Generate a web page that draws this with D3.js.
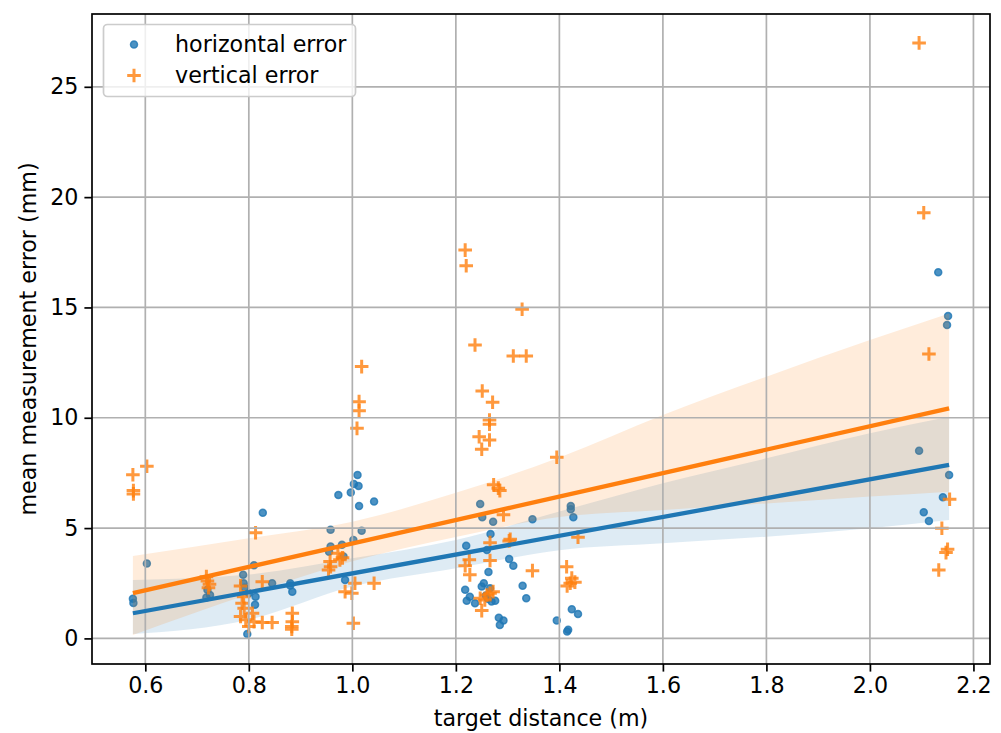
<!DOCTYPE html>
<html>
<head>
<meta charset="utf-8">
<script src="https://cdn.jsdelivr.net/npm/d3@7"></script>
<style>
  body { margin: 0; background: #fff; }
  text { font-family: "DejaVu Sans", sans-serif; }
</style>
</head>
<body>
<div id="chart"></div>
<script>
const width = 1001;
const height = 733;

// horizontal error points (distance in m, error in mm)
const hDist = [0.576, 0.577, 0.603, 0.720, 0.725, 0.718, 0.789, 0.810, 0.790, 0.813, 0.812, 0.797, 0.827, 0.845, 0.880, 0.884, 0.792, 0.800, 0.880,
  1.010, 1.003, 1.012, 0.973, 0.997, 1.013, 1.042, 0.958, 1.018, 0.958, 0.955, 0.980, 1.002, 0.983, 0.986,
  1.247, 1.251, 1.272, 1.348, 1.267, 1.220, 1.260, 1.303, 1.311, 1.263, 1.218, 1.221, 1.227, 1.237, 1.250, 1.254, 1.266, 1.276, 1.269, 1.329, 1.336, 1.283, 1.292, 1.285, 1.258, 1.262,
  1.422, 1.422, 1.427, 1.395, 1.417, 1.415, 1.424, 1.436,
  2.132, 2.151, 2.149, 2.095, 2.153, 2.141, 2.104, 2.114];
const hErr = [1.80, 1.60, 3.39, 2.20, 1.97, 1.85, 2.89, 3.32, 2.50, 1.89, 1.52, 0.20, 5.70, 2.50, 2.50, 2.12, 2.30, 2.05, 2.40,
  7.41, 7.00, 6.91, 6.50, 6.61, 6.00, 6.20, 4.92, 4.88, 4.16, 3.93, 4.24, 4.46, 3.71, 2.65,
  6.09, 5.49, 5.29, 5.40, 4.73, 4.20, 4.01, 3.60, 3.29, 3.01, 2.20, 1.71, 1.89, 1.59, 2.35, 2.50, 2.27, 1.71, 1.67, 2.39, 1.82, 0.94, 0.81, 0.61, 1.95, 1.80,
  6.00, 5.85, 5.49, 0.81, 0.39, 0.31, 1.32, 1.11,
  16.59, 14.61, 14.20, 8.50, 7.41, 6.40, 5.72, 5.32];

// vertical error points
const vDist = [0.576, 0.577, 0.577, 0.603, 0.718, 0.720, 0.724, 0.722,
  0.813, 0.784, 0.826, 0.787, 0.791, 0.784, 0.794, 0.807, 0.810, 0.800, 0.826, 0.845, 0.884, 0.884, 0.883, 0.883, 0.790,
  1.018, 1.013, 1.013, 1.009, 0.954, 0.957, 0.972, 0.976, 0.986, 0.999, 1.005, 1.042, 1.002, 0.981, 0.958,
  1.218, 1.220, 1.328, 1.237, 1.311, 1.336, 1.251, 1.271, 1.265, 1.265, 1.245, 1.265, 1.250, 1.395,
  1.273, 1.282, 1.285, 1.292, 1.305, 1.348, 1.414, 1.424, 1.421, 1.415, 1.430, 1.436,
  1.266, 1.303, 1.266, 1.226, 1.218, 1.227, 1.250, 1.247, 1.260, 1.266, 1.256, 1.272,
  2.095, 2.104, 2.114, 2.154, 2.139, 2.150, 2.147, 2.133];
const vErr = [7.42, 6.70, 6.55, 7.80, 2.80, 2.60, 2.45, 2.30,
  4.79, 2.38, 2.57, 1.59, 1.37, 0.99, 0.84, 1.14, 0.76, 0.54, 0.72, 0.72, 1.14, 0.76, 0.54, 0.42, 1.89,
  12.32, 10.73, 10.32, 9.52, 3.10, 3.48, 3.86, 3.56, 2.12, 2.05, 2.50, 2.50, 0.69, 3.65, 3.25,
  17.60, 16.89, 14.92, 13.30, 12.80, 12.80, 11.21, 10.70, 9.90, 9.71, 9.14, 8.99, 8.57, 8.21,
  6.96, 6.81, 6.70, 5.60, 4.49, 3.07, 3.25, 2.73, 2.50, 2.38, 2.55, 4.59,
  4.34, 4.42, 3.53, 3.56, 3.29, 2.88, 1.26, 1.82, 1.97, 2.05, 1.74, 2.12,
  26.99, 19.29, 12.89, 6.31, 4.99, 4.04, 3.89, 3.10];

// regression lines (ends) and confidence bands
const fitX = [0.576, 2.153];
const hFit = [1.14, 7.86];
const vFit = [2.05, 10.43];
const bandX = [0.576, 0.8, 1.0, 1.2, 1.4, 1.6, 1.8, 2.0, 2.153];
const hLower = [0.20, 0.85, 2.35, 3.18, 4.00, 4.31, 4.61, 4.99, 5.37];
const hUpper = [2.65, 2.90, 3.63, 4.46, 5.75, 7.03, 8.16, 9.30, 10.05];
const vLower = [0.16, 2.00, 3.50, 4.60, 5.50, 5.82, 6.12, 6.43, 6.65];
const vUpper = [3.74, 4.54, 5.29, 6.60, 8.20, 10.13, 11.86, 13.52, 14.73];

const xTicks = [0.6, 0.8, 1.0, 1.2, 1.4, 1.6, 1.8, 2.0, 2.2];
const yTicks = [0, 5, 10, 15, 20, 25];

const blue = '#1f77b4';
const orange = '#ff7f0e';
const fontSize = 22.2;

const plot = { left: 92, right: 990, top: 14, bottom: 664 };

const svg = d3.select('#chart')
  .append('svg')
  .attr('width', width)
  .attr('height', height);

const x = d3.scaleLinear().domain([0.497, 2.232]).range([plot.left, plot.right]);
const y = d3.scaleLinear().domain([-1.16, 28.3]).range([plot.bottom, plot.top]);

// clip everything to the axes box
svg.append('clipPath').attr('id', 'clip')
  .append('rect')
  .attr('x', plot.left).attr('y', plot.top)
  .attr('width', plot.right - plot.left).attr('height', plot.bottom - plot.top);

const g = svg.append('g').attr('clip-path', 'url(#clip)');

function drawBand(lower, upper, color) {
  const area = d3.area()
    .x((d, i) => x(bandX[i]))
    .y0((d, i) => y(lower[i]))
    .y1((d, i) => y(upper[i]))
    .curve(d3.curveMonotoneX);
  g.append('path')
    .datum(bandX)
    .attr('d', area)
    .attr('fill', color)
    .attr('fill-opacity', 0.15);
}

// horizontal error scatter
g.selectAll('.hpt')
  .data(hDist)
  .enter()
  .append('circle')
  .attr('class', 'hpt')
  .attr('cx', d => x(d))
  .attr('cy', (d, i) => y(hErr[i]))
  .attr('r', 3.5)
  .attr('fill', blue)
  .attr('fill-opacity', 0.8)
  .attr('stroke', blue)
  .attr('stroke-opacity', 0.8)
  .attr('stroke-width', 1.5);

drawBand(hLower, hUpper, blue);

// vertical error scatter (plus markers)
const plus = 'M-6.8,0H6.8M0,-6.8V6.8';
g.selectAll('.vpt')
  .data(vDist)
  .enter()
  .append('path')
  .attr('class', 'vpt')
  .attr('transform', (d, i) => `translate(${x(d)},${y(vErr[i])})`)
  .attr('d', plus)
  .attr('stroke', orange)
  .attr('stroke-opacity', 0.8)
  .attr('stroke-width', 3)
  .attr('fill', 'none');

drawBand(vLower, vUpper, orange);

// grid
g.selectAll('.gx')
  .data(xTicks)
  .enter()
  .append('line')
  .attr('x1', d => x(d)).attr('x2', d => x(d))
  .attr('y1', plot.top).attr('y2', plot.bottom)
  .attr('stroke', '#b0b0b0')
  .attr('stroke-width', 1.7);

g.selectAll('.gy')
  .data(yTicks)
  .enter()
  .append('line')
  .attr('y1', d => y(d)).attr('y2', d => y(d))
  .attr('x1', plot.left).attr('x2', plot.right)
  .attr('stroke', '#b0b0b0')
  .attr('stroke-width', 1.7);

// regression lines
const line = d3.line().x((d, i) => x(fitX[i])).y(d => y(d));
g.append('path').datum(hFit).attr('d', line)
  .attr('stroke', blue).attr('stroke-width', 4.3).attr('fill', 'none');
g.append('path').datum(vFit).attr('d', line)
  .attr('stroke', orange).attr('stroke-width', 4.3).attr('fill', 'none');

// axes
const xAxis = svg.append('g')
  .attr('transform', `translate(0,${plot.bottom})`)
  .call(d3.axisBottom(x).tickValues(xTicks).tickFormat(d3.format('.1f')).tickSize(7.6).tickPadding(6));
const yAxis = svg.append('g')
  .attr('transform', `translate(${plot.left},0)`)
  .call(d3.axisLeft(y).tickValues(yTicks).tickSize(7.6).tickPadding(6));

[xAxis, yAxis].forEach(a => {
  a.select('.domain').remove();
  a.selectAll('.tick line').attr('stroke', '#000').attr('stroke-width', 1.7);
  a.selectAll('.tick text')
    .attr('fill', '#000')
    .style('font-size', fontSize + 'px')
    .style('font-family', '"DejaVu Sans", sans-serif');
});

// frame
svg.append('rect')
  .attr('x', plot.left).attr('y', plot.top)
  .attr('width', plot.right - plot.left).attr('height', plot.bottom - plot.top)
  .attr('fill', 'none')
  .attr('stroke', '#000')
  .attr('stroke-width', 1.7);

// axis labels
svg.append('text')
  .attr('x', (plot.left + plot.right) / 2)
  .attr('y', 726)
  .attr('text-anchor', 'middle')
  .style('font-size', fontSize + 'px')
  .text('target distance (m)');

svg.append('text')
  .attr('transform', `translate(36,${(plot.top + plot.bottom) / 2}) rotate(-90)`)
  .attr('text-anchor', 'middle')
  .style('font-size', fontSize + 'px')
  .text('mean measurement error (mm)');

// legend
const legend = svg.append('g');
legend.append('rect')
  .attr('x', 103.5).attr('y', 24.5)
  .attr('width', 252).attr('height', 72)
  .attr('rx', 4)
  .attr('fill', '#fff').attr('fill-opacity', 0.8)
  .attr('stroke', '#cccccc').attr('stroke-width', 1.7);

legend.append('circle')
  .attr('cx', 134).attr('cy', 44.5).attr('r', 3.5)
  .attr('fill', blue).attr('fill-opacity', 0.8)
  .attr('stroke', blue).attr('stroke-opacity', 0.8).attr('stroke-width', 1.5);
legend.append('path')
  .attr('transform', 'translate(134,75.5)')
  .attr('d', plus)
  .attr('stroke', orange).attr('stroke-opacity', 0.8).attr('stroke-width', 3);

legend.append('text').attr('x', 175).attr('y', 52).style('font-size', fontSize + 'px').text('horizontal error');
legend.append('text').attr('x', 175).attr('y', 83).style('font-size', fontSize + 'px').text('vertical error');
</script>
</body>
</html>
